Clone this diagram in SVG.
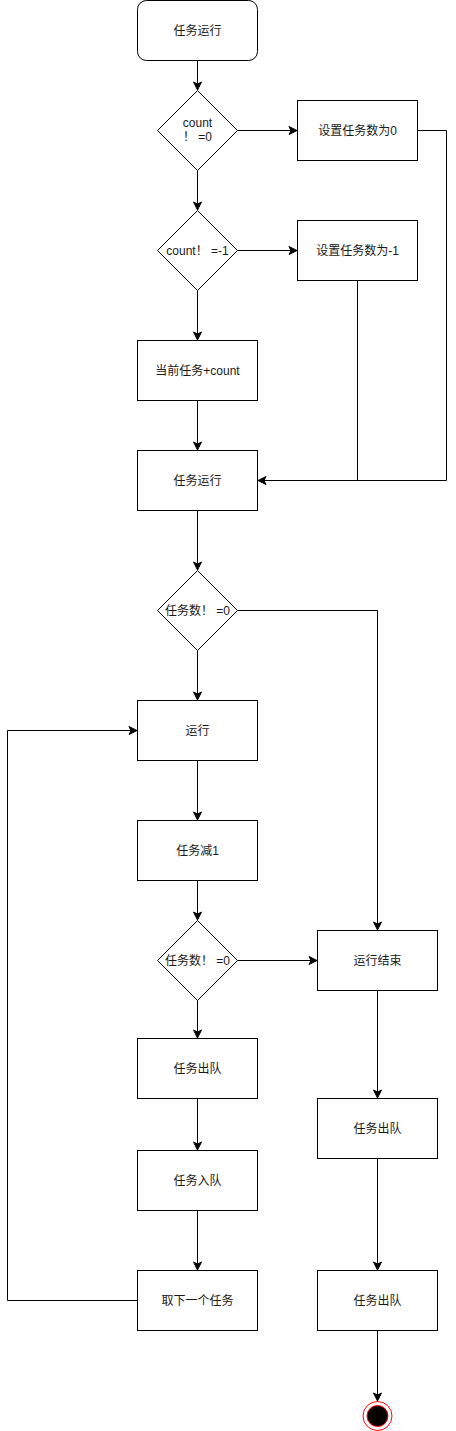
<svg xmlns="http://www.w3.org/2000/svg" width="456" height="1431" viewBox="0 0 456 1431">
<style>
.n{fill:#ffffff;stroke:#000000;stroke-width:1}
.t{font-family:"Liberation Sans","Noto Sans CJK SC",sans-serif;font-size:12px;fill:#1a1a1a;text-anchor:middle;dominant-baseline:central}
.e{fill:none;stroke:#000000;stroke-width:1}
.a{marker-end:url(#arr)}
</style>
<defs>
<marker id="arr" markerUnits="userSpaceOnUse" markerWidth="10" markerHeight="10" viewBox="0 0 10 10" refX="9" refY="5" orient="auto">
<path d="M1,1 L9,5 L1,9 L3,5 Z" fill="#000000" stroke="#000000" stroke-width="1"/>
</marker>
</defs>
<rect width="456" height="1431" fill="#ffffff"/>
<g id="connectors">
<path class="e a" d="M197.5,60.5 L197.5,90"/>
<path class="e a" d="M237.5,130.5 L297,130.5"/>
<path class="e a" d="M197.5,170.5 L197.5,210"/>
<path class="e a" d="M237.5,250.5 L297,250.5"/>
<path class="e a" d="M197.5,290.5 L197.5,340"/>
<path class="e a" d="M197.5,400.5 L197.5,450"/>
<path class="e a" d="M417.5,130.5 L446.5,130.5 L446.5,480.5 L258,480.5"/>
<path class="e" d="M357.5,280.5 L357.5,480.5"/>
<path class="e a" d="M197.5,510.5 L197.5,570"/>
<path class="e a" d="M237.5,610.5 L377.5,610.5 L377.5,930"/>
<path class="e a" d="M197.5,650.5 L197.5,700"/>
<path class="e a" d="M197.5,760.5 L197.5,820"/>
<path class="e a" d="M197.5,880.5 L197.5,920"/>
<path class="e a" d="M237.5,960.5 L317,960.5"/>
<path class="e a" d="M197.5,1000.5 L197.5,1038"/>
<path class="e a" d="M197.5,1098.5 L197.5,1150"/>
<path class="e a" d="M197.5,1210.5 L197.5,1270"/>
<path class="e a" d="M137.5,1300.5 L7.5,1300.5 L7.5,730.5 L137,730.5"/>
<path class="e a" d="M377.5,990.5 L377.5,1098"/>
<path class="e a" d="M377.5,1158.5 L377.5,1270"/>
<path class="e a" d="M377.5,1330.5 L377.5,1401"/>
</g>
<g id="start"><rect class="n" x="137.5" y="0.5" width="120" height="60" rx="9" ry="9"/><text class="t" x="197.5" y="30.5">任务运行</text></g>
<g id="d1"><path class="n" d="M197.5,90.5 L237.5,130.5 L197.5,170.5 L157.5,130.5 Z"/><text class="t" x="197.5" y="123">count</text><text class="t" x="197.5" y="137">！ =0</text></g>
<g id="b1"><rect class="n" x="297.5" y="100.5" width="120" height="60"/><text class="t" x="357.5" y="130.5">设置任务数为0</text></g>
<g id="d2"><path class="n" d="M197.5,210.5 L237.5,250.5 L197.5,290.5 L157.5,250.5 Z"/><text class="t" x="197.5" y="250.5">count！ =-1</text></g>
<g id="b2"><rect class="n" x="297.5" y="220.5" width="120" height="60"/><text class="t" x="357.5" y="250.5">设置任务数为-1</text></g>
<g id="b3"><rect class="n" x="137.5" y="340.5" width="120" height="60"/><text class="t" x="197.5" y="370.5">当前任务+count</text></g>
<g id="b4"><rect class="n" x="137.5" y="450.5" width="120" height="60"/><text class="t" x="197.5" y="480.5">任务运行</text></g>
<g id="d3"><path class="n" d="M197.5,570.5 L237.5,610.5 L197.5,650.5 L157.5,610.5 Z"/><text class="t" x="197.5" y="610.5">任务数！ =0</text></g>
<g id="b5"><rect class="n" x="137.5" y="700.5" width="120" height="60"/><text class="t" x="197.5" y="730.5">运行</text></g>
<g id="b6"><rect class="n" x="137.5" y="820.5" width="120" height="60"/><text class="t" x="197.5" y="850.5">任务减1</text></g>
<g id="d4"><path class="n" d="M197.5,920.5 L237.5,960.5 L197.5,1000.5 L157.5,960.5 Z"/><text class="t" x="197.5" y="960.5">任务数！ =0</text></g>
<g id="b7"><rect class="n" x="317.5" y="930.5" width="120" height="60"/><text class="t" x="377.5" y="960.5">运行结束</text></g>
<g id="b8"><rect class="n" x="137.5" y="1038.5" width="120" height="60"/><text class="t" x="197.5" y="1068.5">任务出队</text></g>
<g id="b9"><rect class="n" x="137.5" y="1150.5" width="120" height="60"/><text class="t" x="197.5" y="1180.5">任务入队</text></g>
<g id="b10"><rect class="n" x="137.5" y="1270.5" width="120" height="60"/><text class="t" x="197.5" y="1300.5">取下一个任务</text></g>
<g id="b11"><rect class="n" x="317.5" y="1098.5" width="120" height="60"/><text class="t" x="377.5" y="1128.5">任务出队</text></g>
<g id="b12"><rect class="n" x="317.5" y="1270.5" width="120" height="60"/><text class="t" x="377.5" y="1300.5">任务出队</text></g>
<g id="end"><circle cx="377.5" cy="1416" r="14.5" fill="#ffffff" stroke="#ff0000" stroke-width="1"/><circle cx="377.5" cy="1416" r="10.5" fill="#000000" stroke="#ff0000" stroke-width="1"/></g>
</svg>
